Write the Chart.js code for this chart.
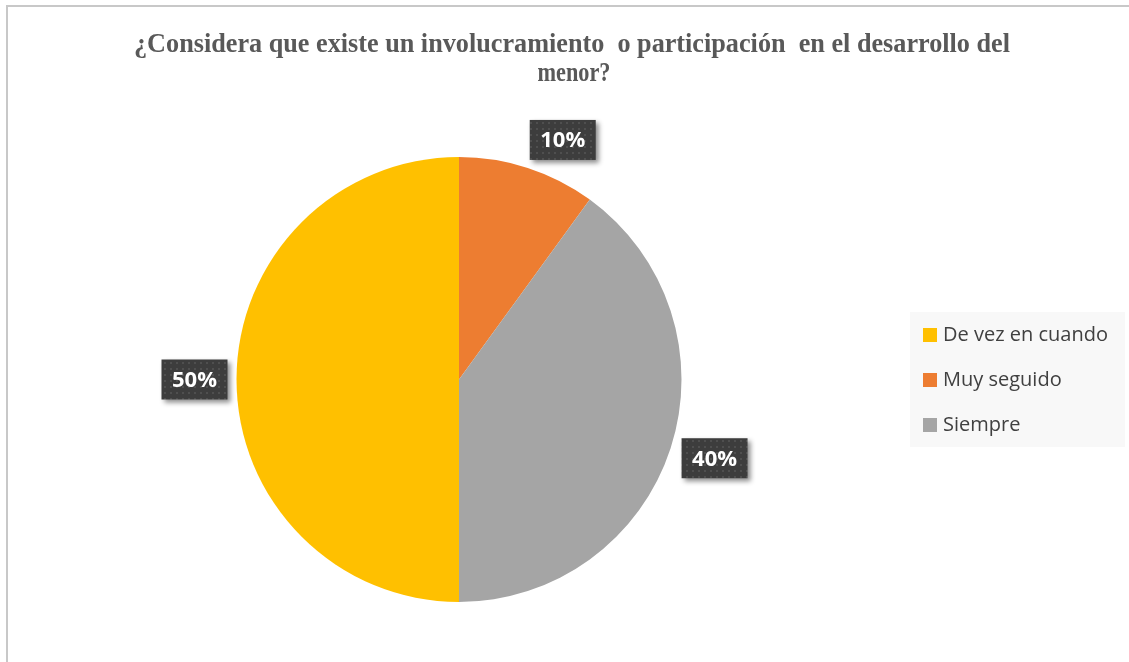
<!DOCTYPE html>
<html>
<head>
<meta charset="utf-8">
<style>
  html, body { margin: 0; padding: 0; background: #fff; }
  #chart { display: block; }
</style>
<script src="https://cdn.jsdelivr.net/npm/chart.js@4/dist/chart.umd.min.js"></script>
</head>
<body>
<canvas id="chart" width="1129" height="662"></canvas>
<script>
// datos
var CATEGORIAS = ['De vez en cuando', 'Muy seguido', 'Siempre'];
var VALORES = [50, 10, 40];
var COLORES = ['#FFC000', '#ED7D31', '#A5A5A5'];
var TITULO = ['¿Considera que existe un involucramiento  o participación  en el desarrollo del', 'menor?'];

// fondo punteado de las etiquetas
function patron() {
  var c = document.createElement('canvas'); c.width = 6; c.height = 6;
  var x = c.getContext('2d');
  x.fillStyle = '#3d3d3d'; x.fillRect(0, 0, 6, 6);
  x.fillStyle = '#4f4f4f'; x.fillRect(2, 2, 2, 2);
  return x.createPattern(c, 'repeat');
}

var marco = {
  id: 'marco',
  beforeDraw: function (chart) {
    var ctx = chart.ctx;
    ctx.save();
    ctx.strokeStyle = '#c8c8c8'; ctx.lineWidth = 2;
    ctx.beginPath(); ctx.moveTo(7, 662); ctx.lineTo(7, 6); ctx.lineTo(1129, 6); ctx.stroke();
    // titulo (comprimido a lo ancho como en el original)
    ctx.fillStyle = '#595959';
    ctx.font = 'bold 27px "Liberation Serif"';
    ctx.textAlign = 'center'; ctx.textBaseline = 'middle';
    ctx.fillText(TITULO[0], 572, 45, 876);
    ctx.fillText(TITULO[1], 574, 74, 73);
    // leyenda
    ctx.fillStyle = '#f8f8f8'; ctx.fillRect(910, 312, 215, 135);
    ctx.font = '20px "Open Sans"'; ctx.textAlign = 'left';
    chart.data.labels.forEach(function (l, i) {
      var y = 335 + i * 45;
      ctx.fillStyle = chart.data.datasets[0].backgroundColor[i];
      ctx.fillRect(923, y - 7, 14, 14);
      ctx.fillStyle = '#404040';
      ctx.fillText(l, 943, y, 170);
    });
    ctx.restore();
  }
};

var etiquetas = {
  id: 'etiquetas',
  afterDatasetsDraw: function (chart, args, opts) {
    var ctx = chart.ctx, meta = chart.getDatasetMeta(0);
    var fill = patron();
    ctx.save();
    meta.data.forEach(function (arc, i) {
      var a = (arc.startAngle + arc.endAngle) / 2;
      var r = arc.outerRadius + 42;
      var d = opts.desvio[i] || [0, 0];
      var cx = arc.x + Math.cos(a) * r + d[0], cy = arc.y + Math.sin(a) * r + d[1];
      var w = 66, h = 40;
      ctx.shadowColor = 'rgba(0,0,0,0.45)'; ctx.shadowBlur = 5;
      ctx.shadowOffsetX = 3; ctx.shadowOffsetY = 3;
      ctx.fillStyle = fill;
      ctx.fillRect(cx - w / 2, cy - h / 2, w, h);
      ctx.shadowColor = 'transparent';
      ctx.fillStyle = '#fff';
      ctx.font = 'bold 22px "Open Sans"';
      ctx.textAlign = 'center'; ctx.textBaseline = 'middle';
      ctx.fillText(VALORES[i] + '%', cx, cy + 1);
    });
    ctx.restore();
  }
};

new Chart(document.getElementById('chart'), {
  type: 'pie',
  data: { labels: CATEGORIAS, datasets: [{ data: VALORES, backgroundColor: COLORES, borderWidth: 0 }] },
  options: {
    responsive: false, animation: false, rotation: 180,
    layout: { padding: { left: 236, right: 447, top: 157, bottom: 60 } },
    plugins: {
      legend: { display: false }, tooltip: { enabled: false }, title: { display: false },
      etiquetas: { desvio: [[0, 0], [22, 12], [4, -3]] }
    }
  },
  plugins: [marco, etiquetas]
});
</script>
</body>
</html>
